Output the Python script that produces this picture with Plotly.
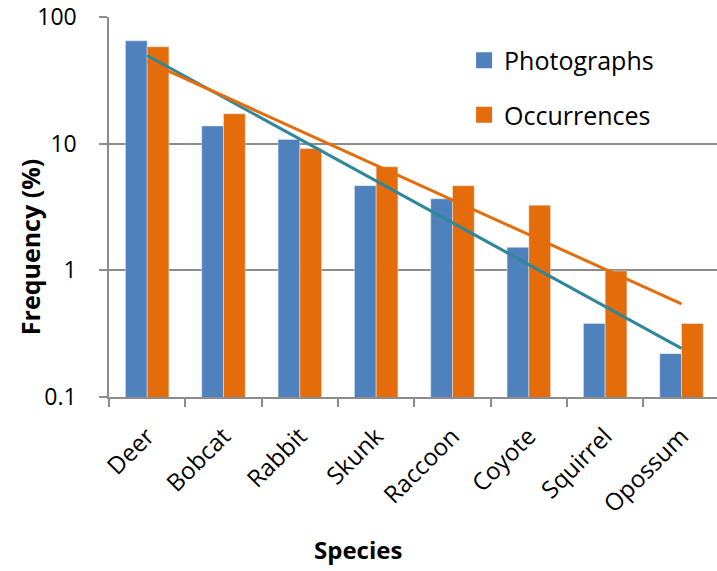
import numpy as np
import plotly.graph_objects as go

# Relative frequency (%) of each species in camera-trap data
species = ["Deer", "Bobcat", "Rabbit", "Skunk", "Raccoon", "Coyote", "Squirrel", "Opossum"]
photographs = [64.8, 13.8, 10.8, 4.66, 3.67, 1.52, 0.38, 0.22]
occurrences = [58.2, 17.2, 9.15, 6.57, 4.66, 3.27, 0.99, 0.38]
y_ticks = [0.1, 1, 10, 100]
y_tick_text = ["0.1", "1", "10", "100"]

BLUE = "#4F81BD"
ORANGE = "#E46C0A"
TEAL = "#2F879B"
GRID = "#8C8C8C"
FONT = "Open Sans"
NBSP = "\u00a0"


def exp_trend(values):
    """Least-squares exponential trend (linear fit of log10 values vs. rank)."""
    idx = np.arange(len(values))
    slope, icpt = np.polyfit(idx, np.log10(values), 1)
    return list(10 ** (icpt + slope * idx))


fig = go.Figure()
fig.add_trace(go.Bar(x=species, y=photographs, name="Photographs",
                     marker=dict(color=BLUE), showlegend=False))
fig.add_trace(go.Bar(x=species, y=occurrences, name="Occurrences",
                     marker=dict(color=ORANGE), showlegend=False))
fig.add_trace(go.Scatter(x=species, y=exp_trend(photographs), mode="lines",
                         line=dict(color=TEAL, width=3), showlegend=False,
                         hoverinfo="skip"))
fig.add_trace(go.Scatter(x=species, y=exp_trend(occurrences), mode="lines",
                         line=dict(color=ORANGE, width=3), showlegend=False,
                         hoverinfo="skip"))

# legend entries with large square swatches
for name, col in [("Photographs", BLUE), ("Occurrences", ORANGE)]:
    fig.add_trace(go.Scatter(x=[None], y=[None], mode="markers", name=name,
                             legendgroup=name,
                             marker=dict(symbol="square", size=18, color=col)))

fig.update_layout(
    width=717, height=571,
    margin=dict(l=109, r=0, t=14, b=174),
    paper_bgcolor="white", plot_bgcolor="white",
    font=dict(family=FONT, color="#000000", size=23),
    barmode="group", bargap=0.43, bargroupgap=0,
    legend=dict(x=0.584, y=0.946, xanchor="left", yanchor="top",
                font=dict(size=25, family=FONT), traceorder="grouped",
                tracegroupgap=19, bgcolor="rgba(0,0,0,0)", itemsizing="trace"),
    xaxis=dict(range=[-0.5, 7.465], showline=True, linecolor=GRID, linewidth=1.5,
               ticks="outside", ticklen=8, tickcolor=GRID, tickwidth=1.5,
               tickson="boundaries", tickangle=-45, showgrid=False,
               tickfont=dict(size=24, family=FONT), ticklabelstandoff=14),
    yaxis=dict(type="log", range=[-1, 2], tickmode="array", tickvals=y_ticks,
               ticktext=[t + NBSP * 3 for t in y_tick_text],
               ticklabeloverflow="allow",
               showline=True, linecolor=GRID, linewidth=1.5,
               ticks="outside", ticklen=8, tickcolor=GRID, tickwidth=1.5,
               showgrid=True, gridcolor=GRID, gridwidth=1.5, zeroline=False,
               tickfont=dict(size=23, family=FONT)),
    annotations=[
        dict(text="<b>Frequency (%)</b>", textangle=-90, x=30, y=246,
             xanchor="center", yanchor="middle",
             xref="paper", yref="paper", showarrow=False,
             font=dict(size=25, family=FONT)),
        dict(text="<b>Species</b>", x=358, y=551,
             xanchor="center", yanchor="middle",
             xref="paper", yref="paper", showarrow=False,
             font=dict(size=24, family=FONT)),
    ],
)

# convert pixel placements of the axis titles into paper coordinates
L, T, B, W, H = 109, 14, 174, 717, 571
pw, ph = W - L, H - T - B
for a in fig.layout.annotations:
    a.x = (a.x - L) / pw
    a.y = (H - B - a.y) / ph

fig.write_html("out.html")
